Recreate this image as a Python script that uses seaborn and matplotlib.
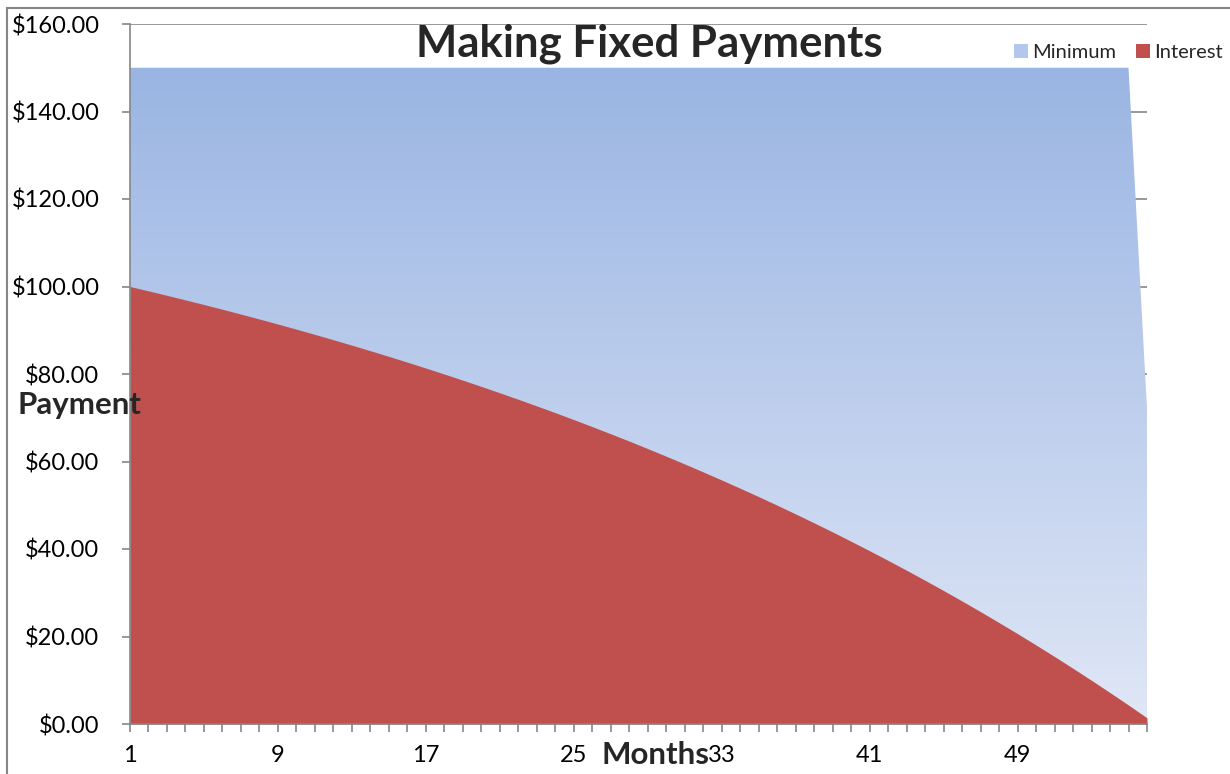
import numpy as np
import pandas as pd
import matplotlib
matplotlib.use("Agg")
import matplotlib.pyplot as plt
import seaborn as sns
from matplotlib.patches import Rectangle, Patch
from matplotlib.colors import LinearSegmentedColormap
from matplotlib.ticker import FuncFormatter, MultipleLocator, FixedLocator

# ---- data ----
months = list(range(1, 57))
minimum = [150.0] * 55 + [72.13]
interest = [100.00, 99.00, 97.98, 96.94, 95.88, 94.80, 93.69, 92.57, 91.42, 90.25,
            89.05, 87.83, 86.59, 85.32, 84.03, 82.71, 81.36, 79.99, 78.59, 77.16,
            75.70, 74.22, 72.70, 71.16, 69.58, 67.97, 66.33, 64.66, 62.95, 61.21,
            59.43, 57.62, 55.77, 53.89, 51.97, 50.01, 48.01, 45.97, 43.89, 41.76,
            39.60, 37.39, 35.14, 32.84, 30.50, 28.11, 25.67, 23.18, 20.65, 18.06,
            15.42, 12.73, 9.98, 7.18, 4.33, 1.41]
xtick_labels = [1, 9, 17, 25, 33, 41, 49]
ytick_values = [0, 20, 40, 60, 80, 100, 120, 140, 160]
series_names = ["Minimum", "Interest"]
title_text = "Making Fixed Payments"
xlabel_text = "Months"
ylabel_text = "Payment"

df = pd.DataFrame({"Month": months, "Minimum": minimum, "Interest": interest})

sns.set_theme(style="white")
plt.rcParams["font.family"] = ["Lato", "DejaVu Sans"]

W, H = 1230, 774
fig = plt.figure(figsize=(W / 100, H / 100), dpi=100)
ax = fig.add_axes([130 / W, 50 / H, (1147 - 130) / W, (724 - 24) / H])

grey = "#868686"
blue_top = "#9AB5E3"
blue_bot = "#E0E7F6"
red = "#C0504D"

# gridlines
ax.set_axisbelow(True)
ax.yaxis.grid(True, color=grey, linewidth=1.2)
ax.xaxis.grid(False)

# Minimum area with vertical gradient
poly = ax.fill_between(df["Month"], 0, df["Minimum"], color="none", linewidth=0, zorder=2)
cmap = LinearSegmentedColormap.from_list("g", [blue_bot, blue_top])
grad = np.linspace(0, 1, 256).reshape(-1, 1)
im = ax.imshow(grad, cmap=cmap, origin="lower", aspect="auto",
               extent=[1, 56, 0, 150], zorder=2, interpolation="bicubic")
im.set_clip_path(poly.get_paths()[0], transform=ax.transData)

# Interest area
ax.fill_between(df["Month"], 0, df["Interest"], color=red, linewidth=0, zorder=3)

ax.set_xlim(1, 56)
ax.set_ylim(0, 160)

ax.xaxis.set_major_locator(FixedLocator(xtick_labels))
ax.xaxis.set_minor_locator(MultipleLocator(1))
ax.set_xticklabels([str(v) for v in xtick_labels])
ax.yaxis.set_major_locator(FixedLocator(ytick_values))
ax.yaxis.set_major_formatter(FuncFormatter(lambda v, p: f"${v:,.2f}"))

ax.tick_params(axis="x", which="both", direction="out", length=6, width=1.2,
               color=grey, bottom=True, labelsize=17, pad=9, labelcolor="black")
ax.tick_params(axis="y", which="major", direction="out", length=6, width=1.2,
               color=grey, left=True, labelsize=17, pad=16, labelcolor="black")

for s in ["top", "right"]:
    ax.spines[s].set_visible(False)
for s in ["left", "bottom"]:
    ax.spines[s].set_color(grey)
    ax.spines[s].set_linewidth(1.2)
    ax.spines[s].set_zorder(4)

# texts
fig.text(649 / W, 1 - 44 / H, title_text, ha="center", va="center",
         fontsize=31.5, fontweight="bold")
fig.text(18 / W, 1 - 405 / H, ylabel_text, ha="left", va="center",
         fontsize=22.5, fontweight="bold", zorder=10)
fig.text(656 / W, 1 - 755 / H, xlabel_text, ha="center", va="center",
         fontsize=22.5, fontweight="bold", zorder=10)

# legend
handles = [Patch(facecolor="#B3C6EB", edgecolor="none", label=series_names[0]),
           Patch(facecolor=red, edgecolor="none", label=series_names[1])]
fig.legend(handles=handles, loc="upper right", bbox_to_anchor=(1223 / W, 1 - 44 / H),
           ncol=2, frameon=False, fontsize=14.5, handlelength=0.7, handleheight=0.7,
           handletextpad=0.2, columnspacing=1.0, borderaxespad=0, borderpad=0)

# outer chart border
fig.patches.append(Rectangle((7 / W, -0.05), 1.1, 1 - 7.5 / H + 0.05,
                             transform=fig.transFigure, fill=False,
                             edgecolor=grey, linewidth=1.5))

fig.savefig("out.png", dpi=100)
